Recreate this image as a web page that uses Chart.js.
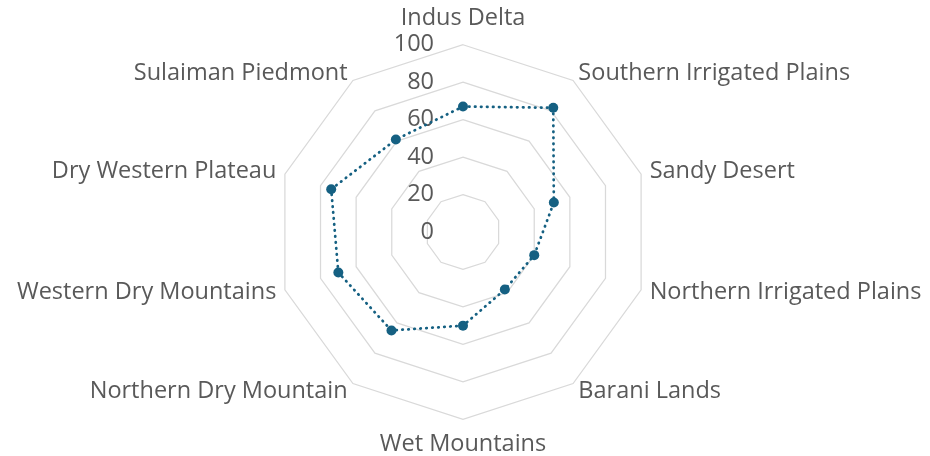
<!DOCTYPE html>
<html>
<head>
<meta charset="utf-8">
<script src="https://cdn.jsdelivr.net/npm/chart.js@4/dist/chart.umd.min.js"></script>
<style>
  html, body { margin: 0; padding: 0; background: #ffffff; }
  #wrap { width: 930px; height: 456px; }
</style>
</head>
<body>
<div id="wrap"><canvas id="chart" width="930" height="456"></canvas></div>
<script>
// Agro-ecological zones and their scores (0–100)
const zones = [
  'Indus Delta',
  'Southern Irrigated Plains',
  'Sandy Desert',
  'Northern Irrigated Plains',
  'Barani Lands',
  'Wet Mountains',
  'Northern Dry Mountain',
  'Western Dry Mountains',
  'Dry Western Plateau',
  'Sulaiman Piedmont'
];
const scores = [67, 82, 51, 40, 38, 50, 65, 70, 74, 61];
const scaleMin = 0;
const scaleMax = 100;
const scaleStep = 20;

const accent = '#156082';
const textGrey = '#595959';
const gridGrey = '#d9d9d9';
const fontFamily = '"Open Sans", "DejaVu Sans", sans-serif';
const fontSize = 23.5;

// Radial tick labels sit just left of the vertical axis, right-aligned.
const leftTickLabels = {
  id: 'leftTickLabels',
  beforeDatasetsDraw(chart) {
    const r = chart.scales.r;
    const ctx = chart.ctx;
    ctx.save();
    ctx.font = `${fontSize}px ${fontFamily}`;
    ctx.fillStyle = textGrey;
    ctx.textAlign = 'right';
    ctx.textBaseline = 'middle';
    r.ticks.forEach(t => {
      const d = r.getDistanceFromCenterForValue(t.value);
      ctx.fillText(String(t.value), r.xCenter - 29, r.yCenter - d);
    });
    ctx.restore();
  }
};

new Chart(document.getElementById('chart'), {
  type: 'radar',
  data: {
    labels: zones,
    datasets: [{
      data: scores,
      borderColor: accent,
      backgroundColor: accent,
      borderWidth: 2.75,
      borderDash: [0.5, 5.5],
      borderCapStyle: 'round',
      fill: false,
      tension: 0,
      pointRadius: 5,
      pointHoverRadius: 5,
      pointBackgroundColor: accent,
      pointBorderColor: accent,
      pointBorderWidth: 0
    }]
  },
  options: {
    responsive: false,
    animation: false,
    devicePixelRatio: 1,
    layout: { padding: { top: 18, bottom: 10, left: 10, right: 0 } },
    plugins: {
      legend: { display: false },
      tooltip: { enabled: false }
    },
    scales: {
      r: {
        min: scaleMin,
        max: scaleMax,
        beginAtZero: true,
        ticks: { stepSize: scaleStep, display: false },
        grid: { color: gridGrey, lineWidth: 1.25 },
        angleLines: { display: false },
        pointLabels: {
          color: textGrey,
          font: { family: fontFamily, size: fontSize, lineHeight: 0.01 },
          padding: (ctx) => ctx.index === 0 ? 26.5 : (ctx.index === 5 ? 25 : 9)
        }
      }
    }
  },
  plugins: [leftTickLabels]
});
</script>
</body>
</html>
